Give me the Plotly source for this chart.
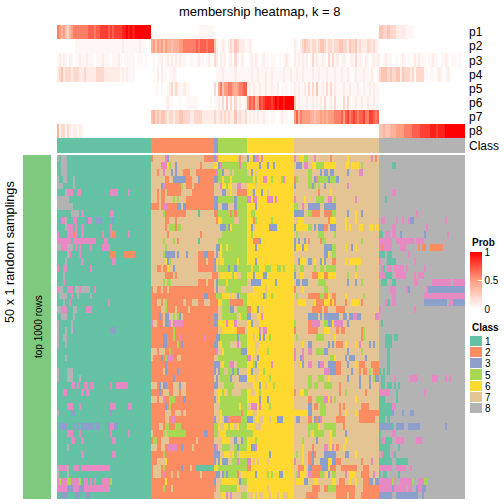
import plotly.graph_objects as go

title = "membership heatmap, k = 8"
prob_labels = ["p1", "p2", "p3", "p4", "p5", "p6", "p7", "p8"]
legend_classes = [1, 2, 3, 5, 6, 7, 8]
class_colors = {1: "#66C2A5", 2: "#FC8D62", 3: "#8DA0CB", 4: "#E78AC3",
                5: "#A6D854", 6: "#FFD92F", 7: "#E5C494", 8: "#B3B3B3"}
block_classes = [1, 2, 3, 5, 6, 7, 8]
block_sizes = [46, 31, 2, 14, 23, 42, 42]

# membership probabilities, one string per block: . = 0  , = 0.04  digit = d/10  a = 1
p1 = ["6545324566666667776778888787888899a9a9aaaaaaaa", ".......................,,,,,,,,", "..", "..............", ".......................", "..........................................", "3322322211111,,,,........................."]
p2 = [".........,,,,,,,,,,,,,,,,,,,,,,,1,,,,,,,1,,..", "4535453544344455666666767776777", "31", ".,1,.12132111,1"[:14], ",1,......................"[:23], "1,.12322122123321221223322132231211122121,,", ".........................................."]
p3 = [",1,1,.1,.,,1,,1,,,.,,,1,,,.,,,1,.,,,,,.,,,.,.", ".,.,,1.,1,1,1,1,,..,,.,1,,.,1,.", "21", ".1,1.,1.2,.1,.", ".,1,1,.,1.,.,,..,.,1,..", "1,1,1,1.,2,1,,1,.2,2,1.,1,.,1,2,1,.1,.,1,1", ",.,1,,..,.,1,.,.,1,1,,,.,,1,,.,,1,.,,,.,.."]
p4 = ["1231222122211211111222211111111,1,1,,,........", ".,.1.1,,.,,1,..................", ".,", ",,1,,,,,1,,,,,", ",,1,,1,,,1,,1,,,,,1,,1,", ",1,,1,,,,1,,1,,,1,,,1,,1,,1,.,1,,,1,,,1,.,", "23332322331322212,2222,,.,,.,1,.,1,......."]
p5 = ["..............................................", "..,,.,..,12,21,,1,,............", "2.", "46355665456677", ",1,1,,1,,1,,1,,1.,,,.,,", "1,1,,1,2,2,3,,1,2,2,1,,,1,,1,,,1,.1,,1,1,,", ".........................................."]
p6 = ["..............................................", ".......,1,,...,..,,,,,,......,.", ",,", "1,2,3,2,2,1.,1", "57674587899989a9aa9aaaa", "3,1,,,1,,1,1,1,2,,1,2,,.2,2,,,1,,1,,1,,1,,", ".........................................."]
p7 = ["..............................................", "3423233212212233222112222111111", "21", "12121211312112", ",1,1,1,,1,,.,,..,1,,.,.", "574655554434454545556667578678767786688767", ".........................................."]
p8 = ["4,22,21,11,1,.................................", "...............................", "..", "..............", ".......................", "..........................................", "33433444555566667777888889998999aaaaaaaaaa"]
prob_rows = [p1, p2, p3, p4, p5, p6, p7, p8]

# sample classes, one run-length string class:count per row, per block
block1 = [
"8:1 1:1 8:3 1:1","1:2 8:3 1:1","1:2 8:3 1:1","8:1 1:2 8:2 1:3 8:1 1:1","8:3 1:5 8:1 1:1",
"1:4 8:1 4:3 1:2 4:2 1:14 4:4 1:5 4:1 1:1","8:6 1:1","8:8 1:1","1:7 8:4 1:1 4:1 1:13 4:2 1:1","1:1 3:1 4:2 8:1 1:3 4:2 1:4 3:1 4:2 1:2 3:3 1:5 3:1 1:1",
"1:4 8:1 4:3 1:1 4:1 1:2 4:1 1:13 4:1 1:1","4:1 1:4 4:3 2:1 4:1 1:2 4:1 1:9 4:1 1:3 4:1 2:2 1:6 4:1 1:1","4:7 1:1 4:11 1:4 4:2 1:1","8:2 4:3 8:3 1:1 4:1 1:1 4:1 1:4 4:1 1:5 4:4 1:1","1:5 8:1 4:1 1:4 4:1 1:14 2:3 1:4 2:5 1:1",
"1:4 8:1 1:7 4:1 1:14 4:2 1:1","4:1 1:2 4:2 1:11 4:1 1:1","1:3 8:1 1:1","1:3 4:1 1:1","4:1 8:2 1:2 4:3 1:1 8:2 4:1 8:4 1:2 4:1 1:1",
"1:1 8:4 1:2 4:1 1:2 8:1 1:5 8:1 1:1","1:3 8:1 1:2 4:1 1:18 4:1 1:1","8:2 4:3 1:3 8:2 1:4 4:3 1:1","1:2 8:3 1:3 8:1 1:1","8:1 1:6 8:1 1:1",
"8:1 1:3 8:1 1:2 8:1 3:1 1:17 3:3 1:1","8:1 1:2 8:2 1:1","8:1 1:3 8:1 1:1","1:1","1:4 8:1 1:1",
"1:1","8:1 1:4 8:3 1:1","8:1 1:4 8:3 1:3 8:1 1:1","1:7 4:2 1:1 4:1 1:2 4:2 1:1 4:2 1:8 4:1 1:2 4:6 1:1","1:3 4:2 1:7 4:1 1:1 4:2 1:1",
"1:1","1:5 4:3 1:3 4:1 1:14 4:3 1:6 4:2 1:1","8:1 1:6 3:2 1:17 3:1 1:1","1:1","1:1 3:4 1:3 3:1 1:1 3:1 1:1 3:6 1:1 3:2 1:4 3:1 4:2 3:2 1:1",
"1:5 4:3 1:3 4:1 1:14 4:1 1:8 4:1 1:1","1:7 4:2 1:3 4:1 1:14 4:2 1:1","1:5 8:1 1:1","1:12 4:1 1:14 4:2 1:1","1:1",
"8:1 4:4 8:1 1:2 4:3 1:1 4:14 1:1","8:1 1:4 8:1 1:1","4:1 5:1 4:3 5:2 4:4 5:1 1:1 4:2 1:1 4:1 1:1 4:1 1:3 4:4 5:1 1:1","4:5 3:3 4:3 3:2 4:13 1:1","1:2 3:3 1:4 3:2 1:3 3:2 1:1",
]
block2 = [
"2:1 7:6 4:1 3:1 7:17 2:5","7:5 4:3 6:1 5:1 7:2 3:1 7:11 2:1 7:6","7:3 2:1 7:2 4:1 7:3 3:1 7:1 3:1 7:3 2:3 7:3 2:8","7:7 2:2 7:2 3:6 2:3 7:3 3:1 2:7","7:5 3:1 4:1 2:8 5:1 7:1 2:3 7:1 2:10",
"7:3 2:1 7:1 2:2 7:1 2:7 7:5 2:11","7:3 2:1 7:1 2:2 7:4 5:1 7:1 5:1 7:3 2:14","2:4 7:1 2:1 4:2 2:5 3:2 7:1 3:1 2:14","7:6 5:1 2:10 7:6 1:1 7:7","7:7 2:2 7:3 2:1 7:18",
"7:7 2:1 7:1 5:3 2:1 5:2 7:16","7:8 2:1 7:15 2:1 7:6","7:6 5:1 7:4 5:1 7:1 2:1 7:9 1:1 7:7","7:7 5:1 7:23","7:6 5:1 3:5 7:1 3:1 7:3 3:1 7:5 2:3 3:2 2:3",
"7:7 6:1 3:1 5:1 7:13 2:4 7:1 2:3","7:3 2:2 7:1 2:2 6:1 7:2 3:1 7:11 2:8","7:7 2:4 7:1 2:1 7:17 2:1","7:6 5:1 7:1 5:2 7:13 2:4 7:1 2:3","2:1 7:2 2:2 7:1 2:2 7:1 2:22",
"2:26 3:2 2:3","2:3 7:2 2:1 7:1 5:1 2:8 7:1 2:3 7:3 2:3 7:3 2:2","2:5 7:2 5:1 2:4 7:1 2:5 7:1 2:12","2:4 3:1 2:1 7:1 3:2 7:2 5:1 7:1 5:1 3:1 7:1 2:15","4:1 7:2 2:3 7:1 3:2 4:1 7:1 4:5 2:15",
"2:11 5:1 2:19","2:6 3:2 2:3 5:1 2:2 4:1 2:11 4:1 2:4","2:6 3:2 2:5 5:1 2:1 3:1 2:15","7:3 2:1 7:3 2:2 5:1 2:21","7:1 2:4 3:1 2:1 5:1 4:3 2:2 7:2 2:16",
"2:7 3:1 2:23","2:6 7:1 3:1 2:5 3:1 2:17","2:11 3:1 2:19","7:3 2:1 3:1 7:1 3:2 2:3 7:3 3:1 7:2 2:14","2:4 3:1 2:1 7:3 2:2 7:3 2:1 7:2 2:14",
"7:3 2:1 7:2 4:1 2:2 5:3 2:4 3:1 2:14","2:7 3:1 2:1 5:1 2:21","2:7 7:3 2:2 7:3 2:1 7:1 2:14","2:7 7:2 2:1 4:2 2:19","2:4 7:2 2:1 5:2 2:3 5:3 2:16",
"7:1 2:5 5:1 7:1 5:9 2:9 3:2 2:3","2:1 5:2 2:2 7:4 2:13 7:1 2:8","7:3 2:2 7:2 2:1 4:5 2:2 3:1 2:4 7:1 2:10","2:6 5:1 2:24","2:3 7:4 6:1 2:23",
"2:1 7:4 2:1 5:1 2:8 3:1 2:3 7:1 2:2 1:9","2:1 7:4 2:1 4:1 2:3 7:1 2:2 7:1 2:10 7:1 2:6","2:7 6:1 2:23","2:6 5:1 2:3 7:1 2:20","2:31",
]
block3 = [
"3:1 4:1","6:2","2:1 4:1","3:2","7:2","7:2","3:2","3:2","2:2","7:1 2:1",
"7:2","7:2","7:2","7:1 3:1","7:1 3:1","3:1 6:1","3:1 7:1","2:2","7:1 3:1","7:1 3:1",
"2:1 5:1","2:2","2:2","3:2","3:2","2:2","2:1 3:1","3:2","2:1 4:1","7:2",
"3:2","3:1 7:1","7:1 3:1","3:2","7:2","3:1 7:1","7:2","7:2","3:1 7:1","5:2",
"5:2","7:2","3:1 4:1","3:2","3:1 7:1","6:2","2:1 3:1","3:1 7:1","2:1 7:1","7:2",
]
block5 = [
"6:9 7:1 2:1 7:3","3:1 4:1 5:8 4:1 5:3","5:2 3:1 7:3 5:1 7:1 5:6","5:2 6:1 5:3 6:1 5:6","7:1 4:1 6:2 5:1 6:2 7:2 4:2 7:3",
"7:2 3:2 7:2 6:1 7:2 2:5","5:8 3:1 5:5","7:2 3:3 7:3 3:1 5:5","5:6 2:1 5:1 2:1 5:5","6:2 5:6 7:2 5:4",
"7:1 3:3 5:1 3:1 6:1 5:7","7:2 5:12","5:14","3:1 6:1 5:2 6:1 5:9","7:1 6:1 5:12",
"7:1 6:2 5:6 6:1 5:4","5:5 3:1 5:2 3:1 5:5","7:1 6:6 5:1 6:1 7:2 5:3","5:4 6:1 5:9","7:4 5:7 7:3",
"5:2 6:4 7:1 6:1 7:1 3:1 5:4","6:2 5:4 2:6 5:2","7:2 5:4 3:2 7:1 5:5","7:2 5:7 7:1 6:1 5:3","6:4 4:1 6:3 4:1 7:5",
"7:2 6:7 2:4 7:1","3:1 5:8 3:1 5:4","7:1 6:1 5:4 7:3 4:1 7:1 5:3","7:2 6:1 5:8 3:3","5:14",
"3:1 7:1 6:1 5:3 4:2 7:1 5:5","3:1 5:2 7:2 5:2 3:1 5:1 3:1 7:4","7:1 5:5 3:1 7:3 3:4","7:3 5:5 7:6","6:2 5:1 6:1 7:1 5:2 7:4 5:3",
"6:1 5:13","7:1 5:9 6:1 5:3","7:1 6:1 5:9 2:1 5:2","7:1 6:1 7:1 3:2 4:1 2:5 5:3","6:1 7:2 6:2 5:1 6:2 7:1 6:1 5:4",
"7:1 6:3 5:10","7:2 6:4 7:2 3:1 7:2 3:1 5:2","7:2 5:4 7:2 5:1 3:1 5:3","3:1 7:2 6:3 7:1 6:1 5:1 7:1 6:4","3:1 6:1 3:3 7:2 5:2 4:1 5:4",
"5:14","3:1 7:1 3:1 5:1 3:1 5:4 2:1 7:1 6:3","7:2 6:7 7:1 3:1 5:3","7:1 5:8 6:1 7:4","7:2 6:2 4:1 7:1 4:1 7:4 5:3",
]
block6 = [
"3:1 6:2 3:1 4:2 6:1 4:1 6:15","6:6 3:1 6:3 3:1 6:2 3:1 6:8","7:1 6:1 3:1 6:1 7:1 6:18","5:3 6:1 5:1 6:3 4:2 6:2 5:1 6:4 5:1 4:1 6:4","6:4 7:1 6:18",
"6:2 7:1 3:1 6:3 3:1 6:2 7:1 6:12","4:2 6:1 4:2 6:5 4:3 6:1 4:1 6:8","6:4 3:1 6:18","6:2 5:2 6:19","6:3 2:1 5:1 6:7 5:1 6:10",
"6:2 3:1 7:1 6:7 3:4 6:8","6:2 5:1 6:20","6:3 2:3 3:1 6:16","6:4 3:1 6:18","6:23",
"6:4 3:1 6:18","5:2 6:1 5:3 6:3 5:3 6:3 5:2 6:1 5:1 6:4","6:3 3:1 6:4 3:2 6:13","7:2 3:5 6:7 3:1 6:8","7:3 6:6 7:1 6:13",
"6:8 3:1 5:1 6:2 5:1 6:10","6:23","2:2 6:3 3:1 6:1 7:1 6:15","3:2 7:3 6:2 4:1 6:15","6:2 3:1 7:3 6:17",
"6:6 4:1 7:1 4:2 6:13","6:3 7:1 6:2 3:1 6:1 3:1 6:2 5:1 6:11","6:4 7:2 6:17","6:4 7:1 6:5 5:1 6:12","4:2 6:1 7:2 3:1 6:17",
"6:3 5:1 3:1 6:7 4:1 6:10","6:2 3:1 7:3 6:2 5:1 6:14","6:4 7:1 6:6 5:1 6:11","7:3 6:3 3:1 6:2 7:1 6:3 5:1 6:9","6:2 7:2 6:2 5:1 6:16",
"6:6 3:1 6:3 3:1 6:12","7:2 4:3 6:1 4:1 6:4 5:1 6:11","6:3 7:2 6:18","3:3 7:1 6:2 7:2 6:3 7:1 6:3 3:3 6:5","6:4 7:3 6:16",
"5:3 6:20","6:4 5:1 6:18","6:2 3:2 4:1 6:18","6:11 3:1 6:11","4:2 6:1 7:1 6:1 7:1 6:4 7:1 6:12",
"2:2 6:21","6:4 3:1 6:5 5:1 6:1 5:1 6:3 3:2 6:5","6:23","6:10 7:1 6:12","7:3 6:1 7:1 6:1 7:2 6:3 7:1 6:3 7:1 6:2 7:2 6:3",
]
block7 = [
"4:1 7:2 6:2 5:2 7:3 4:1 7:7 2:1 7:7 6:1 7:11 4:1 7:1 2:1 7:2","7:1 3:3 7:1 4:2 7:2 6:2 5:4 6:6 7:4 6:2 7:1 6:4 7:1 5:1 7:1","7:7 5:2 7:4 3:1 7:1 3:2 7:1 3:2 7:6 3:1 7:5 4:2 7:1","2:1 5:1 7:5 5:2 7:1 3:1 4:1 5:5 3:1 5:3 3:1 7:1","3:1 7:6 5:2 3:1 5:1 7:1 5:1 7:2 3:1 7:10 4:1 7:1",
"7:12 2:1 7:5 6:1 7:1","4:1 7:4 6:1 7:5 5:4 7:2 4:2 7:1 5:1 7:9 4:1 7:1","5:2 7:2 4:1 7:2 3:6 7:2 3:6 7:1","3:5 7:2 5:2 2:4 7:2 2:4 5:2 7:5 3:1 7:3 6:1 7:2 3:1 7:1","7:2 6:3 7:12 2:1 6:3 7:4 6:1 7:4 6:1 7:1",
"3:1 6:6 5:2 7:1 3:1 7:1 3:3 2:2 7:1 3:3 7:4 6:1 7:1 6:1 7:4 6:2 7:3 6:2 7:1 6:2","7:1 5:1 7:10 5:3 7:5 5:1 7:21","3:1 7:1 3:1 7:2 3:1 7:1 2:1 7:5 2:1 5:2 7:17 5:1 7:7","3:1 6:3 3:1 6:2 7:8 3:4 5:2 7:4 6:1 7:2 3:1 7:1 6:1 7:1","7:15 3:2 6:1 7:1 5:2 7:1",
"7:2 3:1 6:3 7:1 3:2 7:1 6:1 7:2 3:1 6:1 3:1 7:2 7:1 2:2 7:4 6:1 7:1 6:6 7:1","5:1 7:2 5:2 7:5 5:1 7:2 5:2 7:1 5:5 7:9 5:1 7:1","3:1 7:2 6:2 7:4 2:3 6:3 2:2 6:4 7:5 5:1 7:3 6:1 7:1","7:1 3:2 7:1 3:3 7:5 5:4 7:10 3:1 7:3 3:1 7:2 5:1 7:1","2:1 7:3 6:1 7:10 5:2 7:25",
"7:1 5:1 7:5 2:6 5:2 2:2 6:1 7:1 2:2 7:4 6:1 7:8 5:1 7:1","7:2 6:4 7:4 6:1 2:4 6:3 2:1 6:1 2:1 7:4 2:1 7:2 6:4 7:1 2:1 7:1","7:9 2:5 7:1 2:2 7:4 2:4 7:17","7:7 3:5 7:1 3:1 7:1 3:7 7:2 3:2 7:1 3:2 4:2 3:2 7:7 4:2","5:1 7:6 2:2 4:4 7:2 5:2 3:2 6:1 4:4 7:2 3:1 7:15",
"2:1 7:6 2:5 7:3 6:3 7:3 2:1 7:1 2:2 7:8 2:1 5:1 7:7","7:1 5:1 7:9 5:4 7:5 6:1 7:12 2:1 5:1 7:7","7:4 6:1 7:2 3:2 7:8 3:1 7:1 3:1 7:1 2:3 7:1 6:1 7:4 6:1 7:1 4:1 7:4 3:1 7:1 3:1 7:1","4:1 7:3 4:1 7:2 4:2 7:2 5:4 3:2 7:9 3:1 7:6 5:1 7:8","4:1 7:2 3:1 4:1 7:13 5:2 6:1 7:4 3:1 7:1 3:3 7:5 3:1 7:1",
"7:3 6:1 3:1 7:2 4:2 7:3 3:1 4:2 7:2 3:4 2:2 7:3 3:1 7:3 6:1 7:1 2:3 7:3 2:4","7:15 4:3 3:3 2:2 7:5 3:1 7:3 2:1 7:1 2:2 7:1 5:1 7:1 2:3","7:7 5:2 7:3 5:3 7:2 6:1 7:8 3:1 7:5 3:1 7:4 3:1 7:1 5:1 3:2","7:7 5:2 7:1 5:2 7:3 5:4 7:3 2:1 7:9 3:1 7:4 3:1 7:4","2:1 7:2 6:2 5:2 7:15 2:1 7:2 5:1 7:9 2:1 7:6",
"7:7 2:2 7:2 5:4 4:2 6:1 4:1 7:1 5:1 7:9 6:1 7:1","7:7 3:2 7:1 2:2 7:1 5:3 7:6 2:1 7:1 2:1 7:8 2:4 7:5","6:7 3:2 7:4 5:3 7:6 2:1 7:2 6:1 7:4 6:1 7:1 2:11","7:1 3:2 7:4 2:2 7:1 3:1 2:1 3:1 4:1 7:7 2:4 7:7 2:8 7:2","7:7 5:5 6:1 7:2 5:6 7:3 2:1 7:17",
"7:7 5:1 7:1 6:1 5:5 7:3 6:1 5:2 7:4 3:1 7:16","7:4 5:1 7:6 3:1 7:6 6:1 7:6 6:1 7:16","7:4 6:1 7:4 2:1 7:5 4:2 7:1 6:1 4:1 7:1 2:1 7:2 6:1 7:17","7:1 5:1 7:2 6:1 7:2 2:2 3:1 2:1 7:4 3:6 7:4 3:2 7:3 6:1 7:11","4:1 7:3 6:1 7:2 2:2 3:1 7:3 3:4 6:2 3:2 2:2 7:10 2:1 7:4 4:1 7:3",
"7:2 2:3 6:1 7:1 3:2 2:5 3:3 6:1 2:3 7:2 2:8 7:3 2:3 7:5","7:1 5:1 4:1 6:3 7:1 4:2 2:4 5:2 7:1 6:1 3:1 7:1 5:2 7:4 4:1 7:1 6:3 7:3 2:4 7:2 4:1 7:2","7:1 6:4 3:2 7:3 6:2 7:7 6:2 7:1 2:3 7:2 6:1 7:2 6:1 7:3 2:3 3:2 7:1 3:2","7:9 2:4 7:2 2:2 5:4 2:9 7:4 2:8","7:6 2:6 7:9 2:5 7:1 2:3 7:3 2:9",
]
block8 = [
"8:1","8:6 1:2 8:1","8:1","8:1","8:1",
"8:6 4:2 8:1","8:3 1:1 8:1","8:1","8:18 4:1 8:1","8:1 4:2 8:5 4:1 8:2 4:1 8:2 4:1 3:2 8:15 4:1 8:1",
"8:6 4:2 8:15 4:1 8:1","1:2 8:1 4:2 8:1 4:2 8:2 3:1 8:11 3:1 8:10 4:1 8:1","4:6 8:2 4:9 8:1 4:4 8:1","4:1 2:1 4:4 8:4 4:3 8:6 2:1 8:1 2:2 8:2 2:6 8:1","1:3 8:1 1:2 8:8 4:1 8:1",
"4:1 8:3 1:4 8:9 4:1 8:1","8:1 4:1 1:1 8:1 4:2 8:1 4:5 8:1 4:1 8:8 4:1 8:1","4:3 1:3 8:2 4:5 8:4 4:1 8:1 4:3 8:1","8:1 1:3 8:2 1:2 8:9 4:2 8:7 4:9 8:1 4:6","8:5 4:3 8:5 4:1 3:1 8:8 4:1 3:18",
"8:6 4:2 8:14 4:20","8:3 4:1 1:1 8:1 4:2 8:14 3:11 8:1 4:2 3:7","4:1 8:16 4:1 8:1","8:1","8:1 1:1 8:1",
"8:1","8:3 1:3 8:1 1:2 8:1","8:3 1:3 8:1","8:4 1:1 8:1","8:4 1:1 8:1",
"8:4 1:1 8:1","1:1 8:1 1:1 8:1 1:1 8:1","8:1 1:2 8:4 4:1 8:7 4:4 8:7 4:3 8:3 4:1 8:1 4:1 8:1","8:1 1:2 8:1 1:2 8:1 1:1 8:1 1:1 8:1","4:5 8:3 1:1 8:13 4:1 8:1",
"1:3 8:5 1:1 8:1","1:6 4:2 8:1","1:6 3:1 8:4 3:1 8:3 3:2 8:1","1:3 8:1 1:1 8:1","3:6 1:1 8:1 3:4 8:2 3:6 8:12 3:1 8:1",
"1:1 8:5 4:2 8:1","1:1 4:2 1:3 8:2 4:4 8:6 4:3 8:1","1:5 8:4 1:1 8:1","8:1 4:1 1:3 8:1 4:1 1:1 8:1","1:6 8:2 1:6 8:1",
"4:6 8:2 4:5 8:2 4:1 8:1","1:1 8:1 1:2 8:5 1:1 8:1","4:6 5:1 4:1 8:2 4:6 5:1 8:2 4:3 5:2 8:1","4:6 3:1 4:6 8:1 4:2 8:2 3:1 4:2 3:2 8:1","3:6 8:2 3:11 8:2 3:1 8:1",
]
sample_blocks = [block1, block2, block3, block5, block6, block7, block8]


def expand(text, size):
    out = []
    for token in text.split():
        cls, count = token.split(":")
        out += [int(cls)] * int(count)
    return (out + [out[-1]] * size)[:size]


def prob_value(ch):
    return {".": 0, ",": 0.04, "a": 1}.get(ch, int(ch) / 10 if ch.isdigit() else 0)


def expand_prob(text, size):
    vals = [prob_value(c) for c in text]
    return (vals + [0] * size)[:size]


class_matrix = []
for r in range(50):
    row = []
    for blk, size in zip(sample_blocks, block_sizes):
        row += expand(blk[r], size)
    class_matrix.append(row)
prob_matrix = []
for rows in prob_rows:
    row = []
    for txt, size in zip(rows, block_sizes):
        row += expand_prob(txt, size)
    prob_matrix.append(row)
class_strip = []
for cls, size in zip(block_classes, block_sizes):
    class_strip += [cls] * size

W = H = 504
def xd(a, b): return [a / W, b / W]
def yd(a, b): return [1 - b / H, 1 - a / H]

order = sorted(class_colors)
scale = []
for i, k in enumerate(order):
    scale += [[i / 8, class_colors[k]], [(i + 1) / 8, class_colors[k]]]
prob_scale = [[0, "#FFFFFF"], [0.5, "#FF9E81"], [1, "#FF0000"]]
font = "Liberation Sans, Arial, sans-serif"

fig = go.Figure()
# probability rows
fig.add_trace(go.Heatmap(z=prob_matrix, y=prob_labels, colorscale=prob_scale, zmin=0, zmax=1, xaxis="x", yaxis="y",
    hoverinfo="skip",
    colorbar=dict(x=470 / W, xanchor="left", xpad=0, y=1 - 309 / H, yanchor="bottom", ypad=0, lenmode="pixels", len=57,
                  thickness=12, outlinewidth=0, tickvals=[0, 0.5, 1], ticktext=["0", "0.5", "1"], ticks="inside",
                  ticklen=4, tickcolor="white", tickwidth=1, tickfont=dict(size=10, family=font, color="black"))))
# class strip
fig.add_trace(go.Heatmap(z=[class_strip], y=["Class"], colorscale=scale, zmin=0.5, zmax=8.5, showscale=False, xaxis="x2", yaxis="y2", hoverinfo="skip"))
# main matrix
fig.add_trace(go.Heatmap(z=class_matrix, colorscale=scale, zmin=0.5, zmax=8.5, showscale=False, xaxis="x3", yaxis="y3", hoverinfo="skip"))
# left bar
fig.add_trace(go.Heatmap(z=[[1]], colorscale=[[0, "#7FC97F"], [1, "#7FC97F"]], showscale=False, xaxis="x4", yaxis="y4", hoverinfo="skip"))
# class legend
fig.add_trace(go.Heatmap(z=[[c] for c in legend_classes], y=[str(c) for c in legend_classes], colorscale=scale, zmin=0.5, zmax=8.5,
                         showscale=False, xaxis="x5", yaxis="y5", ygap=1, hoverinfo="skip"))

plain = dict(showgrid=False, zeroline=False, showticklabels=False, ticks="", showline=False)
lab = dict(showgrid=False, zeroline=False, ticks="", showline=False, side="right", autorange="reversed", type="category", dtick=1)
fig.update_layout(
    width=W, height=H, margin=dict(l=0, r=0, t=0, b=0), paper_bgcolor="white", plot_bgcolor="white",
    font=dict(family=font, color="black"),
    xaxis=dict(domain=xd(57, 465), **plain),
    yaxis=dict(domain=yd(25, 138), tickfont=dict(size=12), ticklabelstandoff=3, **lab),
    xaxis2=dict(domain=xd(57, 465), anchor="y2", **plain),
    yaxis2=dict(domain=yd(138, 153), anchor="x2", tickfont=dict(size=12), ticklabelstandoff=3, **lab),
    xaxis3=dict(domain=xd(57, 465), anchor="y3", **plain),
    yaxis3=dict(domain=yd(155, 499), anchor="x3", autorange="reversed", **plain),
    xaxis4=dict(domain=xd(23, 51), anchor="y4", **plain),
    yaxis4=dict(domain=yd(155, 499), anchor="x4", **plain),
    xaxis5=dict(domain=xd(470, 482), anchor="y5", **plain),
    yaxis5=dict(domain=yd(336, 414), anchor="x5", tickfont=dict(size=10), ticklabelstandoff=2, **lab),
    annotations=[
        dict(text=title, x=260 / W, y=1 - 11 / H, xref="paper", yref="paper", showarrow=False, font=dict(size=13), xanchor="center", yanchor="middle"),
        dict(text="50 x 1 random samplings", x=10 / W, y=1 - 252 / H, xref="paper", yref="paper", showarrow=False, font=dict(size=12.7), textangle=-90, xanchor="center", yanchor="middle"),
        dict(text="top 1000 rows", x=38 / W, y=1 - 327 / H, xref="paper", yref="paper", showarrow=False, font=dict(size=10), textangle=-90, xanchor="center", yanchor="middle"),
        dict(text="<b>Prob</b>", x=470 / W, y=1 - 242 / H, xref="paper", yref="paper", showarrow=False, font=dict(size=10), xanchor="left", yanchor="middle"),
        dict(text="<b>Class</b>", x=470 / W, y=1 - 327 / H, xref="paper", yref="paper", showarrow=False, font=dict(size=10), xanchor="left", yanchor="middle"),
    ],
)
fig.write_html("out.html", config={"displayModeBar": False}, post_script="document.body.style.margin='0';")
